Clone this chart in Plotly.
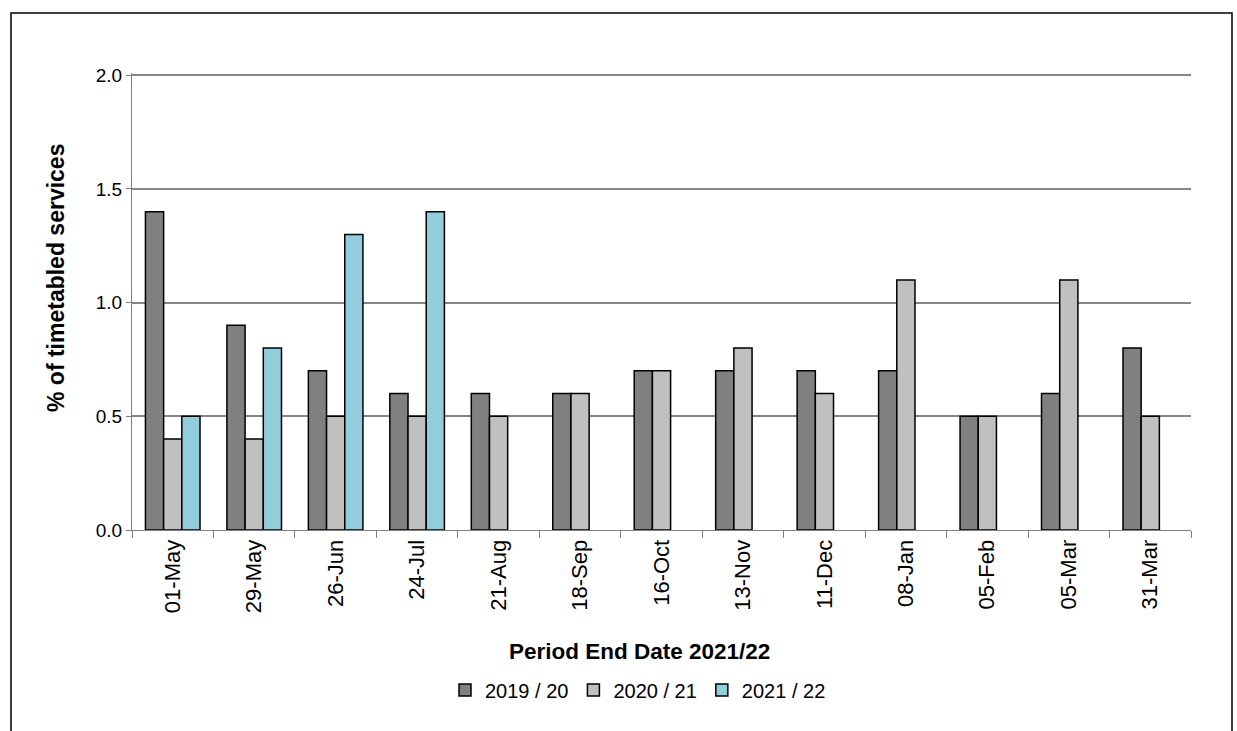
import plotly.graph_objects as go

periods = ["01-May", "29-May", "26-Jun", "24-Jul", "21-Aug", "18-Sep", "16-Oct",
           "13-Nov", "11-Dec", "08-Jan", "05-Feb", "05-Mar", "31-Mar"]
y2019_20 = [1.4, 0.9, 0.7, 0.6, 0.6, 0.6, 0.7, 0.7, 0.7, 0.7, 0.5, 0.6, 0.8]
y2020_21 = [0.4, 0.4, 0.5, 0.5, 0.5, 0.6, 0.7, 0.8, 0.6, 1.1, 0.5, 1.1, 0.5]
y2021_22 = [0.5, 0.8, 1.3, 1.4, None, None, None, None, None, None, None, None, None]

series = [
    ("2019 / 20", y2019_20, "#808080"),
    ("2020 / 21", y2020_21, "#C0C0C0"),
    ("2021 / 22", y2021_22, "#92CDDC"),
]

FONT = "Liberation Sans, Arial, sans-serif"

fig = go.Figure()
for name, vals, color in series:
    fig.add_trace(go.Bar(
        x=periods, y=vals, name=name,
        marker=dict(color=color, line=dict(color="#000000", width=1.5)),
    ))

# plot area geometry (px) for placing paper-referenced items
L, R, T, B = 132, 46, 73, 201
W, H = 1237 - L - R, 731 - T - B

def px_x(px):
    return (px - L) / W

def px_y(py):
    return (731 - B - py) / H

fig.update_layout(
    width=1237, height=731,
    margin=dict(l=L, r=R, t=T, b=B),
    paper_bgcolor="white", plot_bgcolor="white",
    barmode="group", bargap=0.33, bargroupgap=0,
    font=dict(family=FONT, color="#000000"),
    showlegend=True,
    legend=dict(
        orientation="h", x=px_x(638), xanchor="center", y=px_y(690), yanchor="middle",
        font=dict(size=20, family=FONT), itemwidth=30,
        traceorder="normal",
    ),
    xaxis=dict(
        type="category", tickson="boundaries", ticks="outside", ticklen=7,
        tickcolor="#808080", tickwidth=1, showline=True, linecolor="#808080",
        linewidth=1, showgrid=False, tickangle=-90,
        tickfont=dict(size=22, family=FONT), fixedrange=True,
    ),
    yaxis=dict(
        range=[0, 2.01], tickvals=[0, 0.5, 1.0, 1.5, 2.0],
        ticktext=["0.0", "0.5", "1.0", "1.5", "2.0"],
        ticks="outside", ticklen=5, tickcolor="#808080",
        showline=True, linecolor="#808080", linewidth=1,
        showgrid=True, gridcolor="#868686", gridwidth=1.5,
        zeroline=False, tickfont=dict(size=19, family=FONT), fixedrange=True,
    ),
    annotations=[
        dict(text="<b>Period End Date 2021/22</b>", xref="paper", yref="paper",
             x=px_x(639), y=px_y(651), xanchor="center", yanchor="middle",
             showarrow=False, font=dict(size=22.5, family=FONT)),
        dict(text="<b>% of timetabled services</b>", xref="paper", yref="paper",
             x=px_x(56), y=px_y(278), xanchor="center", yanchor="middle",
             textangle=-90, showarrow=False, font=dict(size=23, family=FONT)),
    ],
    shapes=[
        dict(type="rect", xref="paper", yref="paper",
             x0=px_x(11), x1=px_x(1232), y0=px_y(760), y1=px_y(13),
             line=dict(color="#000000", width=1.5), fillcolor="rgba(0,0,0,0)",
             layer="below"),
    ],
)

fig.write_html("out.html")
